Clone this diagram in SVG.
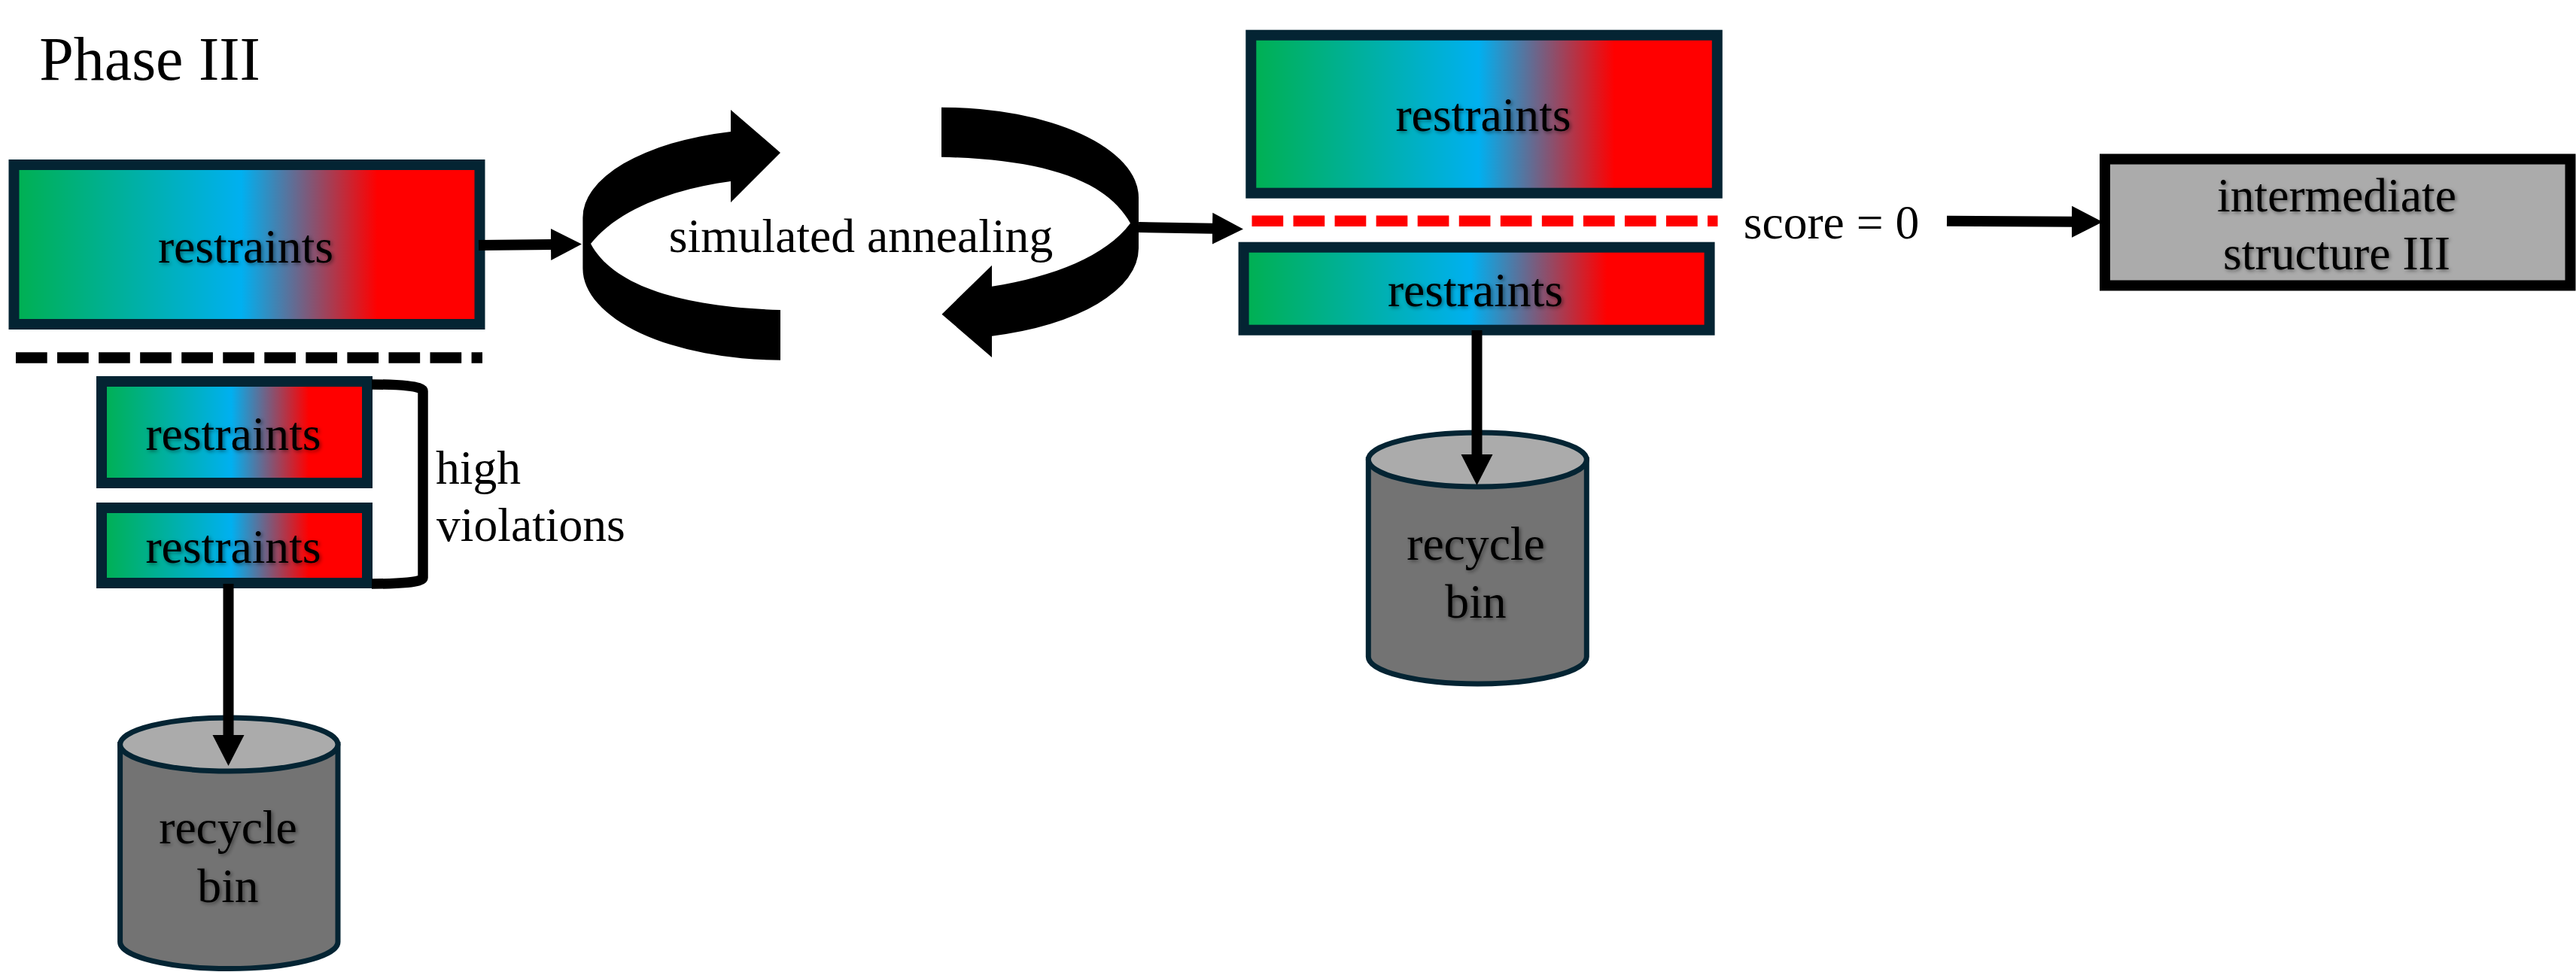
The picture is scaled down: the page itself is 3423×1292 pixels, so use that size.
<svg xmlns="http://www.w3.org/2000/svg" width="3423" height="1292" viewBox="0 0 3423 1292">
  <style>
    text { font-family: "Liberation Serif", "Times New Roman", serif; font-size: 63.6px; fill: #000; text-anchor: middle; }
    .sh { filter: url(#shadow); }
    .r { fill: url(#grad); stroke: #042433; stroke-width: 14; }
    .out { fill: #ababab; stroke: #000; stroke-width: 14; }
    .cb { fill: #737373; stroke: #042433; stroke-width: 7; }
    .ct { fill: #ababab; stroke: #042433; stroke-width: 7; }
    .a { fill: none; stroke: #000; stroke-width: 14; marker-end: url(#head); }
    .d { fill: none; stroke-width: 14.4; stroke-dasharray: 41.7 13.35; }
    .big { fill: #000; stroke: none; }
    .st { text-anchor: start; }
  </style>
  <defs>
    <linearGradient id="grad" x1="0" y1="0" x2="1" y2="0">
      <stop offset="0" stop-color="#00B050"/>
      <stop offset="0.488" stop-color="#00B0F0"/>
      <stop offset="0.78" stop-color="#FF0000"/>
      <stop offset="1" stop-color="#FF0000"/>
    </linearGradient>
    <filter id="shadow" x="-10%" y="-20%" width="120%" height="140%">
      <feDropShadow dx="2" dy="2" stdDeviation="2.5" flood-color="#000" flood-opacity="0.45"/>
    </filter>
    <marker id="head" markerUnits="userSpaceOnUse" markerWidth="42" markerHeight="44" viewBox="0 0 42 44" refX="1" refY="22" orient="auto">
      <path d="M0,1 L41,22 L0,43 Z" fill="#000"/>
    </marker>
  </defs>

  <text id="title" x="199" y="106" style="font-size:82px">Phase III</text>

  <g id="restraints-main">
    <rect class="r" x="18.5" y="219" width="619" height="212"/>
    <text class="sh" x="326.5" y="349">restraints</text>
  </g>
  <g id="restraints-high-1">
    <rect class="r" x="135" y="507" width="353" height="135"/>
    <text class="sh" x="310" y="598">restraints</text>
  </g>
  <g id="restraints-high-2">
    <rect class="r" x="135" y="675" width="353" height="100"/>
    <text class="sh" x="310" y="748">restraints</text>
  </g>
  <g id="bin-left">
    <path class="cb" d="M159.6,989.5 V1252 A144.7,35.5 0 0 0 449,1252 V989.5 Z"/>
    <ellipse class="ct" cx="304.3" cy="989.5" rx="144.7" ry="35.5"/>
    <text class="sh" x="303" y="1121">recycle</text>
    <text class="sh" x="303" y="1198.5">bin</text>
  </g>
  <g id="annealing">
    <path class="big" d="M1037,203 L971,146 L971,175 A263,118 0 0 0 774.4,290 L774.4,356.7 A263,122 0 0 0 1037,478.7 L1037,412 C905,408 815,380 785,324 C820,280 890,252 971,241 L971,269 Z"/>
    <path class="big" d="M1251,142.7 A262,120 0 0 1 1513,263 L1513,330 A262,120.7 0 0 1 1318,446.7 L1318,475 L1251.5,417.7 L1318,352.7 L1318,380.7 C1400,368 1470,340 1502,296.7 C1470,240 1390,212 1251,208.7 Z"/>
    <text x="1144" y="335">simulated annealing</text>
  </g>
  <g id="restraints-top">
    <rect class="r" x="1662.3" y="46.7" width="619.5" height="210"/>
    <text class="sh" x="1971" y="174">restraints</text>
  </g>
  <g id="restraints-low">
    <rect class="r" x="1652.6" y="328.7" width="619" height="110"/>
    <text class="sh" x="1960.5" y="406.7">restraints</text>
  </g>
  <g id="bin-right">
    <path class="cb" d="M1818.3,611 V873 A145,36 0 0 0 2108.3,873 V611 Z"/>
    <ellipse class="ct" cx="1963.3" cy="611" rx="145" ry="36"/>
    <text class="sh" x="1961" y="744">recycle</text>
    <text class="sh" x="1961" y="821">bin</text>
  </g>
  <g id="intermediate">
    <rect class="out" x="2797" y="211.5" width="618.5" height="168"/>
    <text class="sh" x="3105" y="280.7">intermediate</text>
    <text class="sh" x="3105" y="357.7">structure III</text>
  </g>

  <g id="labels">
    <text class="st" x="579" y="643">high</text>
    <text class="st" x="580" y="719">violations</text>
    <text x="2433.5" y="316.7">score = 0</text>
  </g>

  <g id="connectors">
    <path class="d" stroke="#000" d="M21,475.5 H641"/>
    <path class="d" stroke="#f00" d="M1663.5,293.7 H2282.5"/>
    <path fill="none" stroke="#000" stroke-width="13.5" d="M494,511 C530,511 562,513 562,520 V768 C562,774 530,776 494,776"/>
    <path class="a" d="M636,326 L733,325"/>
    <path class="a" d="M1513,302 L1612,303.7"/>
    <path class="a" d="M2587,293.7 L2754,294.8"/>
    <path class="a" d="M303.5,776 V978"/>
    <path class="a" d="M1962.5,439 V605"/>
  </g>
</svg>
